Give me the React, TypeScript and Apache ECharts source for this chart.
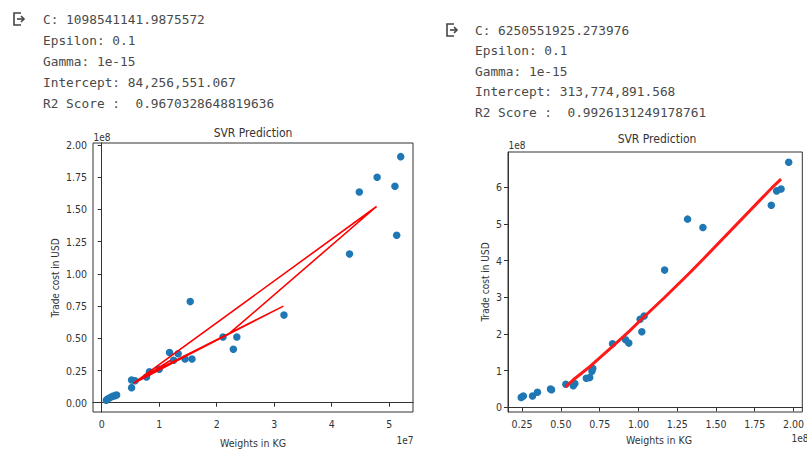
import React, { useEffect, useRef } from "react";
import * as echarts from "echarts";

// ---- Left panel (x in 1e7 kg, y in 1e8 USD) ----
const LEFT_X = [0.08, 0.11, 0.15, 0.19, 0.23, 0.26, 0.52, 0.52, 0.58, 0.78, 0.83, 1.0, 1.18, 1.25, 1.33, 1.45, 1.57, 1.54, 2.11, 2.29, 2.35, 3.17, 4.31, 4.48, 4.79, 5.1, 5.13, 5.2];
const LEFT_Y = [0.02, 0.03, 0.04, 0.05, 0.055, 0.06, 0.117, 0.176, 0.17, 0.2, 0.24, 0.26, 0.39, 0.33, 0.38, 0.34, 0.34, 0.785, 0.51, 0.415, 0.51, 0.68, 1.155, 1.635, 1.75, 1.68, 1.3, 1.91];
const LEFT_PRED_X = [1.2, 0.55, 4.78, 2.2, 0.8, 3.16, 1.5, 0.6];
const LEFT_PRED_Y = [0.33, 0.15, 1.523, 0.53, 0.22, 0.75, 0.37, 0.16];
const LEFT_XTICKS = [0, 1, 2, 3, 4, 5];
const LEFT_YTICKS = [0, 0.25, 0.5, 0.75, 1.0, 1.25, 1.5, 1.75, 2.0];
const LEFT_INFO = [
  "C: 1098541141.9875572",
  "Epsilon: 0.1",
  "Gamma: 1e-15",
  "Intercept: 84,256,551.067",
  "R2 Score :  0.9670328648819636",
];

// ---- Right panel (x in 1e8 kg, y in 1e8 USD) ----
const RIGHT_X = [0.244, 0.258, 0.317, 0.349, 0.433, 0.44, 0.532, 0.58, 0.59, 0.664, 0.686, 0.7, 0.706, 0.833, 0.917, 0.938, 1.011, 1.022, 1.037, 1.169, 1.317, 1.416, 1.857, 1.891, 1.92, 1.969];
const RIGHT_Y = [0.27, 0.31, 0.31, 0.41, 0.5, 0.48, 0.63, 0.59, 0.65, 0.79, 0.81, 0.98, 1.06, 1.73, 1.84, 1.75, 2.4, 2.06, 2.49, 3.74, 5.13, 4.9, 5.51, 5.9, 5.95, 6.68];
const RIGHT_PRED_X = [0.53, 0.58, 0.69, 0.83, 0.94, 1.02, 1.17, 1.32, 1.42, 1.86, 1.92];
const RIGHT_PRED_Y = [0.56, 0.75, 1.12, 1.65, 2.07, 2.4, 3.0, 3.62, 4.05, 5.98, 6.22];
const RIGHT_XTICKS = [0.25, 0.5, 0.75, 1.0, 1.25, 1.5, 1.75, 2.0];
const RIGHT_YTICKS = [0, 1, 2, 3, 4, 5, 6];
const RIGHT_INFO = [
  "C: 6250551925.273976",
  "Epsilon: 0.1",
  "Gamma: 1e-15",
  "Intercept: 313,774,891.568",
  "R2 Score :  0.9926131249178761",
];

const zip = (a: number[], b: number[]) => a.map((v, i) => [v, b[i]]);

const TICK_FONT = '"DejaVu Sans Condensed", "DejaVu Sans", sans-serif';
const MONO = '"DejaVu Sans Mono", "Liberation Mono", monospace';
const AX = "#333";

function axisCommon(ticks: number[], fmt: (v: number) => string) {
  return {
    type: "value" as const,
    splitLine: { show: false },
    axisLine: { show: true, lineStyle: { color: AX, width: 1 } },
    axisTick: { show: true, inside: false, length: 4, customValues: ticks, lineStyle: { color: AX } },
    axisLabel: {
      show: true,
      customValues: ticks,
      formatter: (v: number) => fmt(v),
      fontSize: 10.5,
      fontFamily: TICK_FONT,
      color: "#333",
      margin: 6,
    },
  };
}

function infoText(lines: string[], x: number, y0: number, dy: number) {
  return lines.map((t, i) => ({
    type: "text",
    x,
    y: y0 + i * dy,
    style: { text: t, fontSize: 12.8, fontFamily: MONO, fill: "#4a4a4a", textVerticalAlign: "middle" },
  }));
}

function icon(x: number, y: number) {
  return {
    type: "group",
    x,
    y,
    children: [
      { type: "polyline", shape: { points: [[7, 0], [0, 0], [0, 12], [7, 12]] }, style: { stroke: "#444", lineWidth: 1.6, fill: "none" } },
      { type: "line", shape: { x1: 3, y1: 6, x2: 10, y2: 6 }, style: { stroke: "#444", lineWidth: 1.6 } },
      { type: "polyline", shape: { points: [[7, 3], [10, 6], [7, 9]] }, style: { stroke: "#444", lineWidth: 1.6, fill: "none" } },
    ],
  };
}

function txt(text: string, x: number, y: number, size: number, align = "center", rotation = 0) {
  return {
    type: "text",
    x,
    y,
    rotation,
    style: { text, fontSize: size, fontFamily: TICK_FONT, fill: "#333", textAlign: align, textVerticalAlign: "middle" },
  };
}

export default function App() {
  const ref = useRef<HTMLDivElement>(null);
  useEffect(() => {
    if (!ref.current) return;
    const chart = echarts.init(ref.current, null, { renderer: "svg" });
    const option: any = {
      animation: false,
      backgroundColor: "#fff",
      grid: [
        { left: 93, top: 143, width: 320, height: 269, show: true, borderColor: AX, borderWidth: 1, containLabel: false },
        { left: 508, top: 152, width: 301, height: 260, show: true, borderColor: AX, borderWidth: 1, containLabel: false },
      ],
      xAxis: [
        { ...axisCommon(LEFT_XTICKS, (v) => String(v)), gridIndex: 0, min: -0.151, max: 5.414 },
        { ...axisCommon(RIGHT_XTICKS, (v) => v.toFixed(2)), gridIndex: 1, min: 0.159, max: 2.057 },
      ],
      yAxis: [
        { ...axisCommon(LEFT_YTICKS, (v) => v.toFixed(2)), gridIndex: 0, min: -0.072, max: 2.016 },
        { ...axisCommon(RIGHT_YTICKS, (v) => String(v)), gridIndex: 1, min: -0.128, max: 6.96 },
      ],
      series: [
        {
          type: "scatter", xAxisIndex: 0, yAxisIndex: 0, data: zip(LEFT_X, LEFT_Y),
          symbolSize: 7.5, itemStyle: { color: "#1f77b4", opacity: 1 }, z: 2,
        },
        {
          type: "line", xAxisIndex: 0, yAxisIndex: 0, data: zip(LEFT_PRED_X, LEFT_PRED_Y),
          showSymbol: false, symbol: "none", lineStyle: { color: "#ff0000", width: 1.6 }, z: 3,
        },
        {
          type: "scatter", xAxisIndex: 1, yAxisIndex: 1, data: zip(RIGHT_X, RIGHT_Y),
          symbolSize: 7.5, itemStyle: { color: "#1f77b4", opacity: 1 }, z: 2,
        },
        {
          type: "line", xAxisIndex: 1, yAxisIndex: 1, data: zip(RIGHT_PRED_X, RIGHT_PRED_Y),
          showSymbol: false, symbol: "none", lineStyle: { color: "#ff1a1a", width: 3 }, z: 3,
        },
      ],
      graphic: [
        icon(14, 13),
        ...infoText(LEFT_INFO, 43, 19, 21),
        icon(447, 24),
        ...infoText(RIGHT_INFO, 475, 30, 20.5),
        txt("SVR Prediction", 253, 133, 12),
        txt("1e8", 102, 137, 10),
        txt("Trade cost in USD", 55, 278, 10, "center", Math.PI / 2),
        txt("Weights in KG", 253, 443, 10.5),
        txt("1e7", 405, 440, 10),
        txt("SVR Prediction", 657, 139, 12),
        txt("1e8", 517, 145, 10),
        txt("Trade cost in USD", 485, 282, 10, "center", Math.PI / 2),
        txt("Weights in KG", 659, 440, 10.5),
        txt("1e8", 800, 438, 10),
      ],
    };
    chart.setOption(option);
    return () => chart.dispose();
  }, []);
  return (
    <div
      ref={ref}
      style={{ position: "fixed", left: 0, top: 0, width: 807, height: 450, background: "#fff" }}
    />
  );
}
